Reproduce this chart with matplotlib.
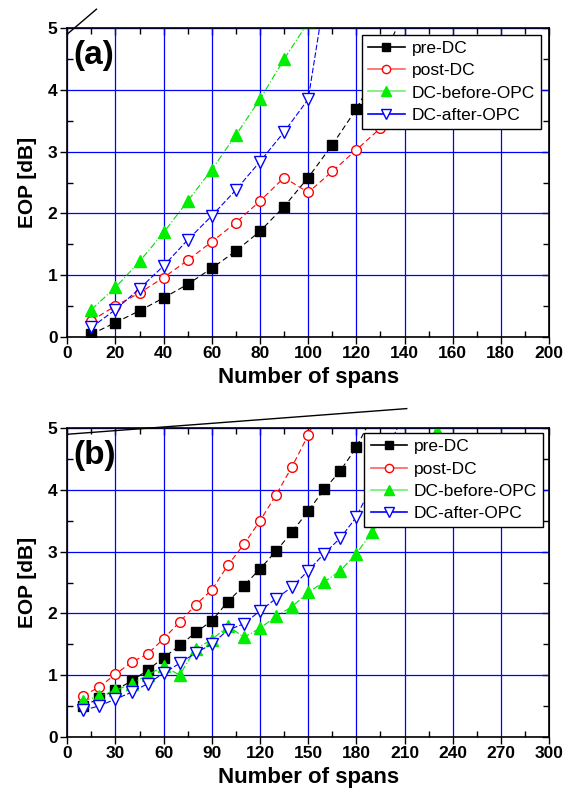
import matplotlib.pyplot as plt
from matplotlib.lines import Line2D
from matplotlib.ticker import MultipleLocator

plt.rcParams['font.family'] = ['Liberation Sans', 'DejaVu Sans']

labels = ['pre-DC', 'post-DC', 'DC-before-OPC', 'DC-after-OPC']

# panel (a) values
pre_a_x = [10, 20, 30, 40, 50, 60, 70, 80, 90, 100, 110, 120, 130, 140]
pre_a = [0.04, 0.23, 0.42, 0.63, 0.85, 1.11, 1.39, 1.71, 2.11, 2.58, 3.11, 3.69, 4.40, 5.30]
post_a_x = [10, 20, 30, 40, 50, 60, 70, 80, 90, 100, 110, 120, 130, 140]
post_a = [0.26, 0.50, 0.71, 0.96, 1.24, 1.54, 1.85, 2.20, 2.58, 2.34, 2.68, 3.03, 3.38, 3.75]
before_a_x = [10, 20, 30, 40, 50, 60, 70, 80, 90, 100]
before_a = [0.44, 0.80, 1.22, 1.69, 2.20, 2.71, 3.27, 3.85, 4.50, 5.10]
after_a_x = [10, 20, 30, 40, 50, 60, 70, 80, 90, 100, 110]
after_a = [0.15, 0.44, 0.78, 1.15, 1.57, 1.96, 2.38, 2.84, 3.32, 3.85, 6.30]

# panel (b)
pre_b_x = list(range(10, 200, 10))
pre_b = [0.50, 0.62, 0.76, 0.90, 1.08, 1.28, 1.48, 1.69, 1.88, 2.19, 2.45, 2.72, 3.01, 3.32,
         3.66, 4.01, 4.31, 4.69, 5.20]
post_b_x = list(range(10, 170, 10))
post_b = [0.66, 0.81, 1.01, 1.21, 1.34, 1.59, 1.86, 2.14, 2.38, 2.78, 3.12, 3.50, 3.92, 4.38,
          4.89, 5.45]
before_b_x = list(range(10, 250, 10))
before_b = [0.58, 0.66, 0.75, 0.86, 1.00, 1.14, 1.00, 1.43, 1.57, 1.80, 1.61, 1.76, 1.95, 2.11,
            2.34, 2.51, 2.69, 2.97, 3.32, 3.70, 4.10, 4.50, 4.95, 5.50]
after_b_x = list(range(10, 220, 10))
after_b = [0.43, 0.50, 0.61, 0.72, 0.86, 1.03, 1.19, 1.36, 1.50, 1.73, 1.83, 2.04, 2.24, 2.43,
           2.69, 2.97, 3.22, 3.56, 4.10, 4.70, 5.25]

# stray line segments poking out of the top of each frame
stray_a_x = [0.4, 12.1]
stray_a_y = [4.92, 5.31]
stray_b_x = [0.6, 211.4]
stray_b_y = [4.905, 5.32]

styles = [
    dict(color='black', marker='s', ms=6.5, mfc='black', mec='black', dashes=(5, 3)),
    dict(color='red', marker='o', ms=7, mfc='white', mec='red', dashes=(5, 3)),
    dict(color='#00dd00', marker='^', ms=9, mfc='#00ee00', mec='#00ee00', dashes=(6, 2, 1, 2)),
    dict(color='blue', marker='v', ms=9, mfc='white', mec='blue', dashes=(5, 2)),
]
legend_colors = ['black', '#ff6060', '#70f070', 'blue']

fig = plt.figure(figsize=(5.67, 7.96), dpi=100)


def panel(rect, series, xmax, xstep, tag, stray, leg_anchor):
    ax = fig.add_axes(rect)
    for (x, y), st in zip(series, styles):
        ax.plot(x, y, lw=0.8, mew=1.0, **st)
    ax.plot(stray[0], stray[1], color='black', lw=1.0, clip_on=False)
    ax.set_xlim(0, xmax)
    ax.set_ylim(0, 5)
    ax.xaxis.set_major_locator(MultipleLocator(xstep))
    ax.xaxis.set_minor_locator(MultipleLocator(xstep / 2))
    ax.yaxis.set_major_locator(MultipleLocator(1))
    ax.yaxis.set_minor_locator(MultipleLocator(0.5))
    ax.set_axisbelow(True)
    ax.grid(which='major', color='blue', lw=0.9)
    ax.tick_params(which='major', direction='out', length=5, width=1, pad=2,
                   labelsize=12.5)
    ax.tick_params(which='minor', direction='in', length=4, width=1)
    for lab in ax.get_xticklabels() + ax.get_yticklabels():
        lab.set_fontweight('bold')
    for sp in ax.spines.values():
        sp.set_linewidth(1.2)
    top = ax.secondary_xaxis('top')
    top.xaxis.set_major_locator(MultipleLocator(xstep))
    top.xaxis.set_minor_locator(MultipleLocator(xstep / 2))
    top.tick_params(which='both', direction='in', labeltop=False, width=1)
    top.tick_params(which='major', length=5)
    top.tick_params(which='minor', length=4)
    right = ax.secondary_yaxis('right')
    right.yaxis.set_major_locator(MultipleLocator(1))
    right.yaxis.set_minor_locator(MultipleLocator(0.5))
    right.tick_params(which='both', direction='in', labelright=False, width=1)
    right.tick_params(which='major', length=5)
    right.tick_params(which='minor', length=4)
    ax.set_xlabel('Number of spans', fontsize=16, fontweight='bold', labelpad=4)
    ax.set_ylabel('EOP [dB]', fontsize=15, fontweight='bold', labelpad=8)
    ax.text(0.012, 0.962, tag, transform=ax.transAxes, fontsize=24, fontweight='bold',
            va='top', ha='left')
    handles = [Line2D([], [], lw=1.2, color=c, marker=st['marker'], ms=st['ms'] * 0.85,
                      mfc=st['mfc'], mec=st['mec'])
               for st, c in zip(styles, legend_colors)]
    leg = ax.legend(handles, labels, loc='upper right', bbox_to_anchor=leg_anchor,
                    borderaxespad=0, fontsize=12.5, fancybox=False, framealpha=1,
                    edgecolor='black', handlelength=2.1, handletextpad=0.4,
                    labelspacing=0.4, borderpad=0.35)
    leg.get_frame().set_linewidth(1.0)
    return ax


panel([0.1187, 0.577, 0.8496, 0.3874],
      [(pre_a_x, pre_a), (post_a_x, post_a), (before_a_x, before_a), (after_a_x, after_a)],
      200, 20, '(a)', (stray_a_x, stray_a_y), (0.983, 0.978))
panel([0.1187, 0.0745, 0.8496, 0.3874],
      [(pre_b_x, pre_b), (post_b_x, post_b), (before_b_x, before_b), (after_b_x, after_b)],
      300, 30, '(b)', (stray_b_x, stray_b_y), (0.988, 0.984))

fig.savefig('out.png', dpi=100)
